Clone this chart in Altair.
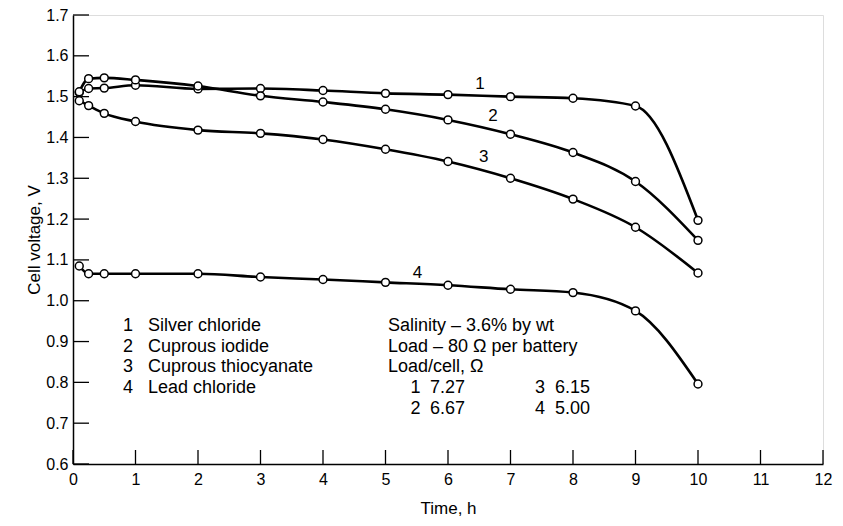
import altair as alt
import pandas as pd

# ---- data ----
times = [0.1, 0.25, 0.5, 1, 2, 3, 4, 5, 6, 7, 8, 9, 10]
silver_chloride = [1.510, 1.520, 1.521, 1.528, 1.519, 1.520, 1.515, 1.508, 1.505, 1.500, 1.496, 1.477, 1.197]
cuprous_iodide = [1.512, 1.544, 1.546, 1.541, 1.526, 1.502, 1.487, 1.469, 1.443, 1.408, 1.363, 1.292, 1.148]
cuprous_thiocyanate = [1.490, 1.478, 1.459, 1.439, 1.418, 1.410, 1.395, 1.371, 1.341, 1.300, 1.249, 1.180, 1.068]
lead_chloride = [1.085, 1.066, 1.066, 1.066, 1.066, 1.058, 1.052, 1.045, 1.038, 1.028, 1.020, 0.975, 0.796]

series_names = ["1", "2", "3", "4"]
series_values = [silver_chloride, cuprous_iodide, cuprous_thiocyanate, lead_chloride]

x_ticks = list(range(0, 13))
y_ticks = [0.6, 0.7, 0.8, 0.9, 1.0, 1.1, 1.2, 1.3, 1.4, 1.5, 1.6, 1.7]

curve_label_t = [6.51, 6.72, 6.57, 5.51]
curve_label_v = [1.530, 1.453, 1.351, 1.067]

note_text = [
    "1", "Silver chloride",
    "2", "Cuprous iodide",
    "3", "Cuprous thiocyanate",
    "4", "Lead chloride",
    "Salinity \u2013 3.6% by wt",
    "Load \u2013 80 \u03a9 per battery",
    "Load/cell, \u03a9",
    "1", "7.27", "3", "6.15",
    "2", "6.67", "4", "5.00",
]
note_t = [0.80, 1.20, 0.80, 1.20, 0.80, 1.20, 0.80, 1.20,
          5.04, 5.04, 5.04,
          5.40, 5.71, 7.39, 7.71,
          5.40, 5.71, 7.39, 7.71]
note_v = [0.9376, 0.9376, 0.887, 0.887, 0.8366, 0.8366, 0.786, 0.786,
          0.9376, 0.887, 0.8366,
          0.786, 0.786, 0.786, 0.786,
          0.7358, 0.7358, 0.7358, 0.7358]

# ---- tables ----
rows = []
for name, vals in zip(series_names, series_values):
    for t, v in zip(times, vals):
        rows.append({"t": t, "v": v, "s": name})
df = pd.DataFrame(rows)
labels_df = pd.DataFrame({"t": curve_label_t, "v": curve_label_v, "txt": series_names})
notes_df = pd.DataFrame({"t": note_t, "v": note_v, "txt": note_text})
xt_df = pd.DataFrame({"t": x_ticks})
yt_df = pd.DataFrame({"v": y_ticks})

FONT = "Liberation Sans"
W, H = 750, 449

xscale = alt.Scale(domain=[0, 12], nice=False, zero=False)
yscale = alt.Scale(domain=[0.6, 1.7], nice=False, zero=False)

xaxis = alt.Axis(values=x_ticks, format="d", title="Time, h", grid=False, ticks=False,
                 labelPadding=7, titlePadding=13, domainColor="black", domainWidth=1.5,
                 labelFontSize=16, titleFontSize=17, labelFont=FONT, titleFont=FONT,
                 labelColor="black", titleColor="black", titleFontWeight="normal",
                 labelFlush=False)
yaxis = alt.Axis(values=y_ticks, format=".1f", title="Cell voltage, V", grid=False, ticks=False,
                 labelPadding=5, titlePadding=2, domainColor="black", domainWidth=1.5,
                 labelFontSize=16, titleFontSize=17, labelFont=FONT, titleFont=FONT,
                 labelColor="black", titleColor="black", titleFontWeight="normal",
                 labelFlush=False)

base_x = alt.X("t:Q", scale=xscale, axis=xaxis)
base_y = alt.Y("v:Q", scale=yscale, axis=yaxis)

lines = alt.Chart(df).mark_line(interpolate="monotone", color="black", strokeWidth=2.6).encode(
    x=base_x, y=base_y, detail="s:N"
)
points = alt.Chart(df).mark_point(shape="circle", filled=True, fill="white", stroke="black",
                                  strokeWidth=1.5, size=62, opacity=1).encode(
    x=alt.X("t:Q", scale=xscale), y=alt.Y("v:Q", scale=yscale)
)
ytick_marks = alt.Chart(yt_df).mark_rule(color="black", strokeWidth=1.3).encode(
    y=alt.Y("v:Q", scale=yscale), x=alt.value(0), x2=alt.value(16)
)
xtick_marks = alt.Chart(xt_df).mark_rule(color="black", strokeWidth=1.3).encode(
    x=alt.X("t:Q", scale=xscale), y=alt.value(H), y2=alt.value(H - 14)
)
curve_labels = alt.Chart(labels_df).mark_text(font=FONT, fontSize=17, color="black",
                                               align="center", baseline="middle").encode(
    x=alt.X("t:Q", scale=xscale), y=alt.Y("v:Q", scale=yscale), text="txt:N"
)
notes = alt.Chart(notes_df).mark_text(font=FONT, fontSize=18, color="black",
                                       align="left", baseline="middle").encode(
    x=alt.X("t:Q", scale=xscale), y=alt.Y("v:Q", scale=yscale), text="txt:N"
)

chart = alt.layer(ytick_marks, xtick_marks, lines, points, curve_labels, notes).properties(
    width=W, height=H,
    autosize=alt.AutoSizeParams(type="none"),
    padding={"left": 65, "top": 7, "right": 12, "bottom": 54},
).configure_view(stroke=None).configure(background="white")

chart.save("out.html", embed_options={"renderer": "svg", "actions": False})
